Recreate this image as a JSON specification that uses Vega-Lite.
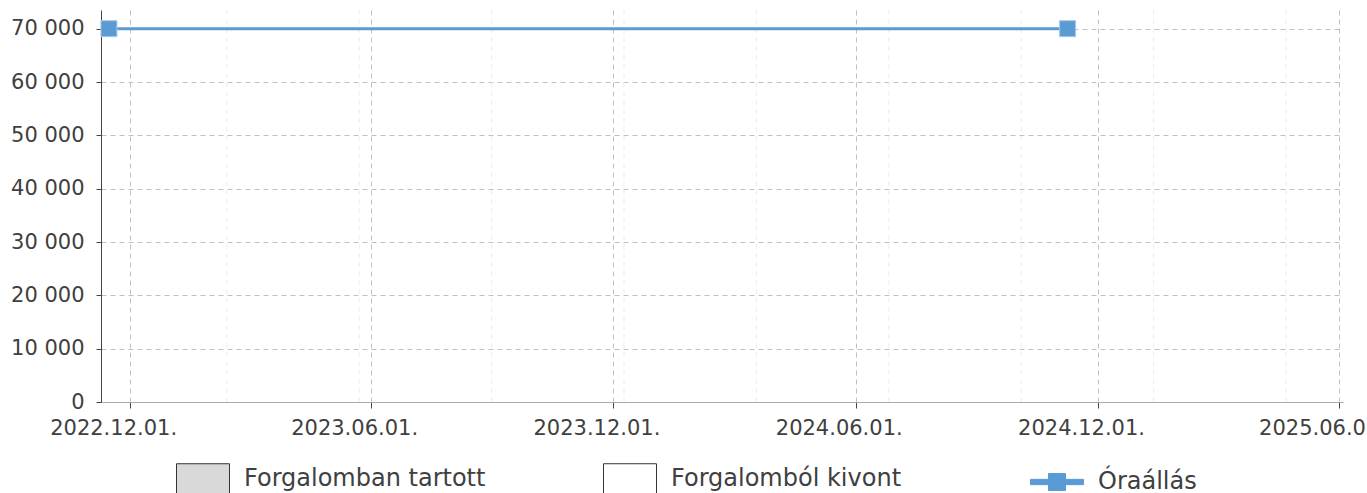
{
  "$schema": "https://vega.github.io/schema/vega-lite/v6.json",
  "width": 1242,
  "height": 392,
  "autosize": {"type": "none"},
  "padding": {"left": 101, "top": 10, "right": 24, "bottom": 91},
  "background": "white",
  "config": {
    "view": {"stroke": null},
    "font": "DejaVu Sans",
    "legend": {
      "orient": "none",
      "direction": "horizontal",
      "legendX": 75,
      "legendY": 442,
      "columns": 3,
      "gridAlign": "all",
      "padding": 0,
      "columnPadding": 115,
      "labelOffset": 14,
      "labelFont": "DejaVu Sans",
      "labelFontSize": 24,
      "labelColor": "#404040",
      "labelLimit": 400,
      "symbolSize": 2809,
      "symbolStrokeWidth": 1,
      "symbolOpacity": 1,
      "title": null
    }
  },
  "datasets": {
    "readings": [
      {"date": "2022-11-15", "km": 70000, "series": "Óraállás"},
      {"date": "2024-11-08", "km": 70000, "series": "Óraállás"}
    ],
    "minor": [
      {"date": "2023-02-12"},
      {"date": "2023-05-23"},
      {"date": "2023-08-31"},
      {"date": "2023-12-09"},
      {"date": "2024-03-18"},
      {"date": "2024-06-26"},
      {"date": "2024-10-04"},
      {"date": "2025-01-12"},
      {"date": "2025-04-22"}
    ]
  },
  "encoding": {
    "x": {
      "field": "date",
      "type": "temporal",
      "scale": {
        "type": "utc",
        "domain": [
          {"year": 2022, "month": 11, "date": 9, "utc": true},
          {"year": 2025, "month": 6, "date": 4, "utc": true}
        ],
        "nice": false
      },
      "axis": {
        "title": null,
        "values": [
          {"year": 2022, "month": 12, "date": 1, "utc": true},
          {"year": 2023, "month": 6, "date": 1, "utc": true},
          {"year": 2023, "month": 12, "date": 1, "utc": true},
          {"year": 2024, "month": 6, "date": 1, "utc": true},
          {"year": 2024, "month": 12, "date": 1, "utc": true},
          {"year": 2025, "month": 6, "date": 1, "utc": true}
        ],
        "labelExpr": "utcFormat(datum.value, '%Y.%m.%d.')",
        "labelFont": "DejaVu Sans",
        "labelFontSize": 21,
        "labelColor": "#404040",
        "labelPadding": 9,
        "labelOffset": -17,
        "labelOverlap": false,
        "labelFlush": false,
        "tickSize": 6,
        "tickColor": "#444444",
        "domainColor": "#aaaaaa",
        "grid": true,
        "gridColor": "#c0c0c0",
        "gridDash": [5, 4]
      }
    }
  },
  "layer": [
    {
      "data": {"name": "minor"},
      "mark": {"type": "rule", "stroke": "#ececec", "strokeDash": [5, 4], "strokeWidth": 1},
      "encoding": {}
    },
    {
      "data": {"name": "readings"},
      "mark": {"type": "line", "strokeWidth": 3, "stroke": "#5b9bd5"},
      "encoding": {
        "y": {
          "field": "km",
          "type": "quantitative",
          "scale": {"domain": [0, 73500], "nice": false},
          "axis": {
            "title": null,
            "values": [0, 10000, 20000, 30000, 40000, 50000, 60000, 70000],
            "labelExpr": "replace(format(datum.value, ','), ',', ' ')",
            "labelFont": "DejaVu Sans",
            "labelFontSize": 21,
            "labelColor": "#404040",
            "labelPadding": 12,
            "tickSize": 5,
            "tickColor": "#444444",
            "domainColor": "#444444",
            "grid": true,
            "gridColor": "#c0c0c0",
            "gridDash": [5, 4]
          }
        }
      }
    },
    {
      "data": {"name": "readings"},
      "mark": {"type": "point", "shape": "square", "filled": true, "size": 256, "opacity": 1, "fill": "#5b9bd5", "stroke": "#a8c8ea", "strokeWidth": 1},
      "encoding": {
        "y": {"field": "km", "type": "quantitative"}
      }
    },
    {
      "data": {"name": "readings"},
      "mark": {"type": "point", "filled": true, "opacity": 0, "strokeWidth": 1},
      "encoding": {
        "y": {"field": "km", "type": "quantitative"},
        "fill": {
          "field": "series",
          "type": "nominal",
          "scale": {
            "domain": ["Forgalomban tartott", "Forgalomból kivont", "Óraállás"],
            "range": ["#d9d9d9", "#ffffff", "#5b9bd5"]
          },
          "legend": {"encode": {"labels": {"dy": {"value": 5}}}}
        },
        "stroke": {
          "field": "series",
          "type": "nominal",
          "scale": {
            "domain": ["Forgalomban tartott", "Forgalomból kivont", "Óraállás"],
            "range": ["#333333", "#333333", "#5b9bd5"]
          },
          "legend": {"encode": {"labels": {"dy": {"value": 5}}}}
        },
        "shape": {
          "field": "series",
          "type": "nominal",
          "scale": {
            "domain": ["Forgalomban tartott", "Forgalomból kivont", "Óraállás"],
            "range": ["M-1,-0.585H1V0.585H-1Z", "M-1,-0.585H1V0.585H-1Z", "M-1,-0.1H1V0.1H-1Z M-0.32,-0.32H0.32V0.32H-0.32Z"]
          },
          "legend": {"encode": {"labels": {"dy": {"value": 5}}}}
        }
      }
    }
  ]
}
